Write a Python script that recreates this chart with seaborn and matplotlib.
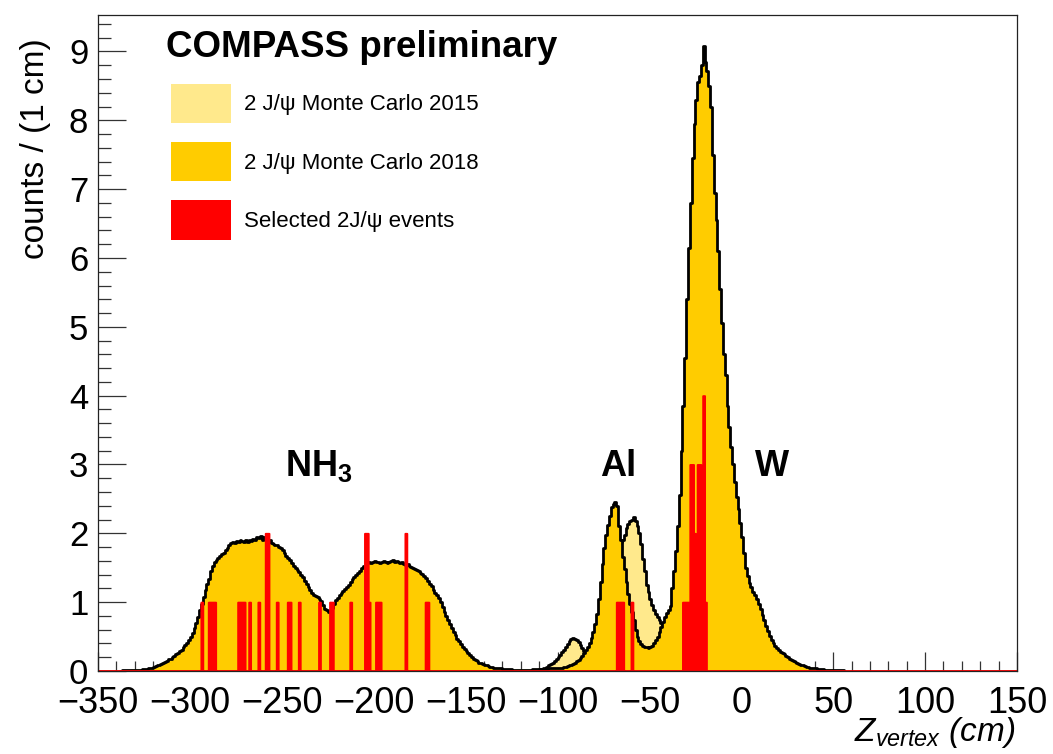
import numpy as np
import pandas as pd
import matplotlib
matplotlib.use("Agg")
import matplotlib.pyplot as plt
from matplotlib.patches import Patch
from matplotlib.ticker import MultipleLocator
import seaborn as sns

# ---------------------------------------------------------------------------
# Monte Carlo vertex distributions, counts per 1 cm bin
# ---------------------------------------------------------------------------
mc2018_start = -338   # left edge of the first 2018 bin (cm)
mc2018 = [
    0.00, 0.01, 0.01, 0.01, 0.01, 0.01, 0.02, 0.02, 0.02, 0.02,   # -338
    0.02, 0.02, 0.03, 0.03, 0.03, 0.04, 0.04, 0.05, 0.06, 0.07,   # -328
    0.08, 0.09, 0.10, 0.12, 0.13, 0.15, 0.17, 0.18, 0.20, 0.22,   # -318
    0.24, 0.26, 0.29, 0.31, 0.35, 0.38, 0.41, 0.45, 0.50, 0.55,   # -308
    0.62, 0.70, 0.79, 0.88, 0.98, 1.08, 1.17, 1.26, 1.34, 1.45,   # -298
    1.53, 1.58, 1.61, 1.64, 1.67, 1.70, 1.72, 1.76, 1.79, 1.83,   # -288
    1.86, 1.87, 1.86, 1.89, 1.88, 1.90, 1.89, 1.88, 1.91, 1.88,   # -278
    1.90, 1.89, 1.92, 1.90, 1.94, 1.93, 1.96, 1.91, 1.94, 1.90,   # -268
    1.88, 1.90, 1.86, 1.85, 1.83, 1.83, 1.80, 1.78, 1.76, 1.72,   # -258
    1.67, 1.64, 1.61, 1.57, 1.53, 1.50, 1.47, 1.44, 1.40, 1.36,   # -248
    1.31, 1.27, 1.22, 1.18, 1.14, 1.11, 1.09, 1.07, 1.05, 1.01,   # -238
    0.96, 0.90, 0.88, 0.86, 0.87, 0.92, 0.98, 1.03, 1.06, 1.10,   # -228
    1.14, 1.16, 1.19, 1.22, 1.25, 1.30, 1.34, 1.37, 1.40, 1.43,   # -218
    1.46, 1.49, 1.52, 1.54, 1.57, 1.58, 1.57, 1.59, 1.60, 1.58,   # -208
    1.59, 1.57, 1.58, 1.60, 1.59, 1.57, 1.58, 1.60, 1.61, 1.59,   # -198
    1.60, 1.58, 1.57, 1.58, 1.55, 1.54, 1.55, 1.52, 1.51, 1.50,   # -188
    1.48, 1.47, 1.45, 1.43, 1.41, 1.38, 1.35, 1.31, 1.27, 1.23,   # -178
    1.18, 1.14, 1.10, 1.06, 1.00, 0.93, 0.86, 0.80, 0.74, 0.68,   # -168
    0.62, 0.57, 0.52, 0.47, 0.43, 0.39, 0.35, 0.32, 0.29, 0.26,   # -158
    0.23, 0.20, 0.18, 0.16, 0.14, 0.12, 0.11, 0.10, 0.09, 0.08,   # -148
    0.07, 0.06, 0.06, 0.05, 0.05, 0.04, 0.04, 0.04, 0.03, 0.03,   # -138
    0.03, 0.03, 0.03, 0.02, 0.02, 0.02, 0.02, 0.02, 0.02, 0.02,   # -128
    0.02, 0.02, 0.02, 0.02, 0.03, 0.03, 0.03, 0.03, 0.03, 0.03,   # -118
    0.03, 0.03, 0.03, 0.04, 0.04, 0.04, 0.04, 0.04, 0.05, 0.05,   # -108
    0.05, 0.06, 0.06, 0.07, 0.08, 0.09, 0.10, 0.12, 0.14, 0.16,   # -98
    0.19, 0.22, 0.26, 0.30, 0.35, 0.41, 0.48, 0.57, 0.68, 0.83,   # -88
    1.05, 1.30, 1.55, 1.78, 1.98, 2.12, 2.25, 2.38, 2.42, 2.45,   # -78
    2.40, 2.10, 1.90, 1.66, 1.48, 1.30, 1.12, 0.98, 0.86, 0.74,   # -68
    0.60, 0.50, 0.43, 0.39, 0.37, 0.35, 0.35, 0.34, 0.35, 0.37,   # -58
    0.41, 0.45, 0.50, 0.57, 0.64, 0.71, 0.78, 0.84, 0.89, 0.95,   # -48
    1.20, 1.45, 1.75, 2.10, 2.55, 3.20, 3.85, 4.55, 5.40, 6.15,   # -38
    6.80, 7.45, 7.95, 8.30, 8.55, 8.65, 8.80, 9.08, 8.85, 8.72,   # -28
    8.50, 8.20, 7.50, 6.95, 6.55, 6.10, 5.55, 5.05, 4.60, 4.30,   # -18
    3.85, 3.55, 3.25, 3.00, 2.75, 2.53, 2.35, 2.15, 1.95, 1.72,   # -8
    1.50, 1.38, 1.28, 1.22, 1.15, 1.10, 1.04, 0.97, 0.90, 0.82,   # 2
    0.74, 0.66, 0.58, 0.51, 0.45, 0.40, 0.36, 0.33, 0.30, 0.28,   # 12
    0.26, 0.24, 0.22, 0.20, 0.18, 0.16, 0.14, 0.13, 0.12, 0.10,   # 22
    0.09, 0.08, 0.07, 0.06, 0.06, 0.05, 0.05, 0.04, 0.04, 0.03,   # 32
    0.03, 0.03, 0.03, 0.02, 0.02, 0.02, 0.02, 0.02, 0.01, 0.01,   # 42
    0.01, 0.01, 0.01, 0.01,                                       # 52
]

mc2015_start = -112   # 2015 setup, aluminium / upstream region
mc2015 = [
    0.02, 0.02, 0.03, 0.03, 0.04, 0.05, 0.06, 0.08, 0.10, 0.12,   # -112
    0.14, 0.17, 0.20, 0.23, 0.27, 0.31, 0.35, 0.39, 0.43, 0.46,   # -102
    0.48, 0.47, 0.45, 0.42, 0.38, 0.33, 0.29, 0.27, 0.28, 0.30,   # -92
    0.33, 0.37, 0.42, 0.48, 0.55, 0.64, 0.75, 0.88, 1.02, 1.18,   # -82
    1.34, 1.48, 1.60, 1.70, 1.78, 1.84, 1.88, 1.90, 1.98, 2.08,   # -72
    2.14, 2.18, 2.20, 2.24, 2.18, 2.10, 2.00, 1.85, 1.62, 1.45,   # -62
    1.25, 1.15, 1.05, 0.96, 0.89, 0.83, 0.78, 0.74, 0.70, 0.67,   # -52
    0.66, 0.66, 0.70, 0.78, 0.85, 0.95,                           # -42
]

# Selected 2J/psi candidates: reconstructed vertex positions (cm)
selected_z = [
    -293.5,
    -289.5, -288.5, -287.5, -286.5,
    -273.5, -272.5, -271.5, -270.5,
    -267.5, -262.5,
    -258.5, -258.5, -257.5, -257.5,
    -252.5, -246.5, -245.5, -240.5, -229.5,
    -223.5, -222.5, -212.5,
    -204.5, -204.5, -203.5, -203.5, -202.5,
    -198.5, -197.5, -196.5,
    -182.5, -182.5,
    -171.5, -170.5,
    -67.5, -66.5, -65.5, -64.5, -59.5,
    -31.5, -30.5, -29.5, -28.5,
    -27.5, -27.5, -27.5,
    -26.5, -26.5, -26.5,
    -25.5, -25.5,
    -24.5,
    -23.5, -23.5, -23.5,
    -22.5, -22.5, -22.5,
    -21.5,
    -20.5, -20.5, -20.5, -20.5,
    -19.5,
]

legend_labels = ["2 J/\u03c8 Monte Carlo 2015",
                 "2 J/\u03c8 Monte Carlo 2018",
                 "Selected 2J/\u03c8 events"]
region_labels = [(-248.5, r"$\mathbf{NH_3}$"), (-77.0, "Al"), (7.5, "W")]

x_ticks = np.arange(-350, 151, 50)
y_ticks = np.arange(0, 10, 1)

# ---------------------------------------------------------------------------
col_2015 = "#FFE98C"
col_2018 = "#FFCC00"
col_sel = "#FF0000"

sns.set_theme(style="ticks")
plt.rcParams["font.family"] = ["Liberation Sans", "DejaVu Sans"]
plt.rcParams["mathtext.fontset"] = "custom"
plt.rcParams["mathtext.rm"] = "Liberation Sans"
plt.rcParams["mathtext.it"] = "Liberation Sans:italic"
plt.rcParams["mathtext.bf"] = "Liberation Sans:bold"
plt.rcParams["text.color"] = "black"
plt.rcParams["axes.labelcolor"] = "black"


def hist_frame(start, values):
    centers = start + np.arange(len(values)) + 0.5
    return pd.DataFrame({"z": centers, "w": values}), (start, start + len(values))


df15, range15 = hist_frame(mc2015_start, mc2015)
df18, range18 = hist_frame(mc2018_start, mc2018)
df_sel = pd.DataFrame({"z": selected_z})

fig = plt.figure(figsize=(10.53, 7.54), dpi=100)
ax = fig.add_axes([98 / 1053, 83 / 754, 919 / 1053, 656 / 754])

# 2015 MC (underneath)
sns.histplot(data=df15, x="z", weights="w", binwidth=1, binrange=range15,
             element="step", fill=True, color=col_2015, alpha=1,
             edgecolor="none", linewidth=0, zorder=1.0, ax=ax)
sns.histplot(data=df15, x="z", weights="w", binwidth=1, binrange=range15,
             element="step", fill=False, color="black", linewidth=2.0,
             zorder=1.1, ax=ax)
# 2018 MC
sns.histplot(data=df18, x="z", weights="w", binwidth=1, binrange=range18,
             element="step", fill=True, color=col_2018, alpha=1,
             edgecolor="none", linewidth=0, zorder=1.2, ax=ax)
sns.histplot(data=df18, x="z", weights="w", binwidth=1, binrange=range18,
             element="step", fill=False, color="black", linewidth=2.0,
             zorder=1.3, ax=ax)
# selected events
sns.histplot(data=df_sel, x="z", binwidth=1, binrange=(-350, 150),
             element="step", fill=True, color=col_sel, alpha=1,
             edgecolor=col_sel, linewidth=1.4, zorder=1.4, ax=ax)

ax.set_xlim(-350, 150)
ax.set_ylim(0, 9.53)
ax.set_axisbelow(True)
ax.set_xticks(x_ticks)
ax.set_yticks(y_ticks)
ax.xaxis.set_minor_locator(MultipleLocator(10))
ax.yaxis.set_minor_locator(MultipleLocator(0.2))
ax.tick_params(axis="both", which="both", direction="in", colors="#333333",
               width=0.9, labelcolor="black")
ax.tick_params(axis="y", which="major", length=20, pad=7, labelsize=25)
ax.tick_params(axis="y", which="minor", length=9.5)
ax.tick_params(axis="x", which="major", length=14, pad=11, labelsize=26)
ax.tick_params(axis="x", which="minor", length=7)
for s in ax.spines.values():
    s.set_color("#222222")
    s.set_linewidth(0.9)

ax.set_xlabel(r"$Z_{vertex}$ (cm)", fontsize=24, style="italic", loc="right")
ax.xaxis.set_label_coords(0.998, -0.106)
ax.xaxis.label.set_va("baseline")
ax.set_ylabel("counts / (1 cm)", fontsize=24, loc="top")
ax.yaxis.set_label_coords(-0.051, 0.965)

ax.text(0.074, 0.936, "COMPASS preliminary", transform=ax.transAxes,
        fontsize=26.5, fontweight="bold", va="baseline", ha="left", zorder=3)

for x0, lab in region_labels:
    ax.text(x0, 2.84, lab, fontsize=26, fontweight="bold",
            va="baseline", ha="left", zorder=3)

handles = [Patch(facecolor=c, edgecolor="none") for c in (col_2015, col_2018, col_sel)]
ax.legend(handles, legend_labels, loc="upper left",
          bbox_to_anchor=(0.0791, 0.8948), frameon=False, fontsize=16,
          borderpad=0, borderaxespad=0, handlelength=2.71, handleheight=2.33,
          labelspacing=0.86, handletextpad=0.58)

fig.savefig("out.png", dpi=100)
